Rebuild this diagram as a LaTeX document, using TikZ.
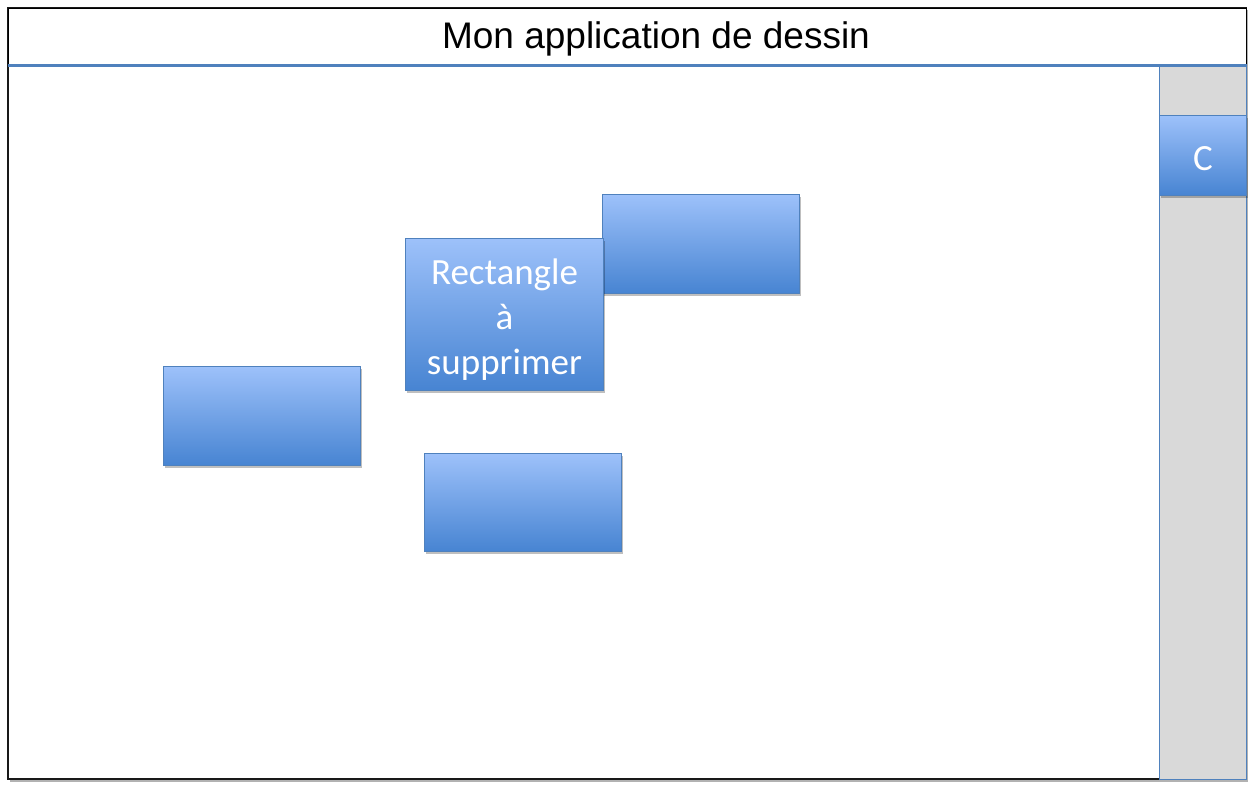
\documentclass[tikz,border=0pt]{standalone}
\usepackage{fontspec}
\setmainfont{Carlito}
\newfontfamily\titlefont{Liberation Sans}
\usetikzlibrary{shadows}
\definecolor{boxtop}{HTML}{9DC1FA}
\definecolor{boxbot}{HTML}{4784D2}
\definecolor{boxline}{HTML}{4F81BD}
\definecolor{sidegray}{HTML}{D9D9D9}
\tikzset{
  bluebox/.style={draw=boxline, line width=1pt, top color=boxtop, bottom color=boxbot,
    drop shadow={shadow xshift=1.5pt, shadow yshift=-2.5pt, opacity=0.25, fill=black},
    inner sep=0pt},
  boxtext/.style={font=\fontsize{37}{45}\selectfont, text=white, align=center, inner sep=0pt},
}
\begin{document}
\begin{tikzpicture}[x=1pt,y=-1pt]
\useasboundingbox (0,0) rectangle (1254,791);
% outer frame
\draw[line width=1.5pt, draw=black!90, fill=white,
  drop shadow={shadow xshift=1.5pt, shadow yshift=-2.5pt, opacity=0.3, fill=black}]
  (8,8) rectangle (1246,779);
% title bar
\node[draw=black, line width=1pt, fill=white, minimum width=1238pt, minimum height=57pt,
  anchor=north west, inner sep=0pt] (bar) at (8,8) {};
\node[font=\titlefont\fontsize{37}{40}\selectfont, anchor=center] (title) at (656,39) {Mon application de dessin};
\draw[boxline, line width=3pt] (bar.south west) -- (bar.south east);
% sidebar
\node[draw=boxline, line width=1pt, fill=sidegray, anchor=north west, minimum width=87pt,
  minimum height=713pt, inner sep=0pt] (side) at (1159,66) {};
\node[bluebox, anchor=north west, minimum width=87pt, minimum height=80pt] (c) at (1159,115) {};
\node[boxtext] (ctext) at ([yshift=-3pt]c.center) {C};
% rectangles
\node[bluebox, anchor=north west, minimum width=197pt, minimum height=99pt] (r1) at (602,194) {};
\node[bluebox, anchor=north west, minimum width=198pt, minimum height=152pt] (r2) at (405,238) {};
\node[boxtext] (r2text) at ([yshift=-5pt]r2.center) {Rectangle\\à\\supprimer};
\node[bluebox, anchor=north west, minimum width=197pt, minimum height=99pt] (r3) at (163,366) {};
\node[bluebox, anchor=north west, minimum width=197pt, minimum height=98pt] (r4) at (424,453) {};
\end{tikzpicture}
\end{document}
